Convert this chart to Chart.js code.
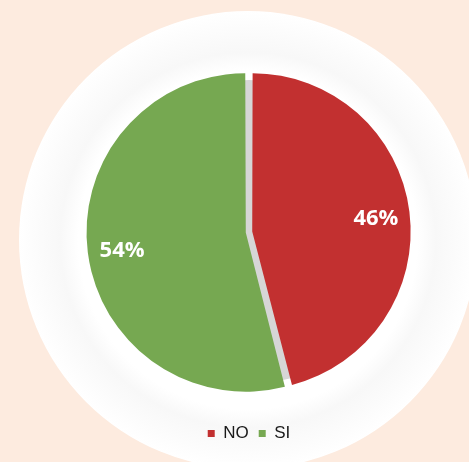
<!DOCTYPE html>
<html>
<head>
<meta charset="utf-8">
<script src="https://cdn.jsdelivr.net/npm/chart.js@4/dist/chart.umd.min.js"></script>
<style>
  html, body { margin: 0; padding: 0; background: #fdebdf; }
  #wrap { width: 469px; height: 462px; position: relative; }
</style>
</head>
<body>
<div id="wrap"><canvas id="chart"></canvas></div>
<script>
// answers to a yes/no question, shown as percent of total
const labels = ['NO', 'SI'];
const values = [46, 54];
const colors = ['#c23030', '#76a851'];

// white disc behind the pie, plus a grey disc that shows through the gap
const backdrop = {
  id: 'backdrop',
  beforeDraw(chart) {
    const ctx = chart.ctx;
    const cx = 248, cy = 240, r = 229;
    ctx.save();
    const g = ctx.createRadialGradient(cx, cy, 0, cx, cy, r);
    g.addColorStop(0, '#ffffff');
    g.addColorStop(0.74, '#ffffff');
    g.addColorStop(0.82, '#f8f8f8');
    g.addColorStop(0.9, '#fbfbfb');
    g.addColorStop(1, '#ffffff');
    ctx.fillStyle = g;
    ctx.beginPath();
    ctx.arc(cx, cy, r, 0, Math.PI * 2);
    ctx.fill();
    ctx.restore();
  },
  beforeDatasetsDraw(chart) {
    const arc = chart.getDatasetMeta(0).data[0];
    if (!arc) return;
    const ctx = chart.ctx;
    ctx.save();
    ctx.fillStyle = '#d6d6d6';
    ctx.beginPath();
    ctx.arc(arc.x, arc.y, arc.outerRadius - 4, 0, Math.PI * 2);
    ctx.fill();
    ctx.restore();
  }
};

// percent labels inside each slice
const sliceLabels = {
  id: 'sliceLabels',
  afterDatasetsDraw(chart) {
    const ctx = chart.ctx;
    ctx.save();
    ctx.fillStyle = '#ffffff';
    ctx.font = 'bold 22px "Open Sans", sans-serif';
    ctx.textAlign = 'center';
    ctx.textBaseline = 'middle';
    chart.getDatasetMeta(0).data.forEach((a, i) => {
      const mid = (a.startAngle + a.endAngle) / 2;
      const d = a.outerRadius * 0.82;
      ctx.fillText(values[i] + '%', a.x + Math.cos(mid) * d, a.y + Math.sin(mid) * d + 3);
    });
    ctx.restore();
  }
};

new Chart(document.getElementById('chart'), {
  type: 'pie',
  data: {
    labels: labels,
    datasets: [{
      data: values,
      backgroundColor: colors,
      borderWidth: 0,
      offset: 13,
      radius: 156
    }]
  },
  options: {
    responsive: true, maintainAspectRatio: false, animation: false,
    layout: { padding: { left: 29, top: 49, bottom: 10 } },
    plugins: {
      legend: {
        position: 'bottom',
        labels: {
          boxWidth: 7, boxHeight: 7, padding: 10,
          color: '#1a1a1a',
          font: { family: 'Arial, "Liberation Sans", sans-serif', size: 17 }
        }
      },
      tooltip: { enabled: false }
    }
  },
  plugins: [backdrop, sliceLabels]
});
</script>
</body>
</html>
